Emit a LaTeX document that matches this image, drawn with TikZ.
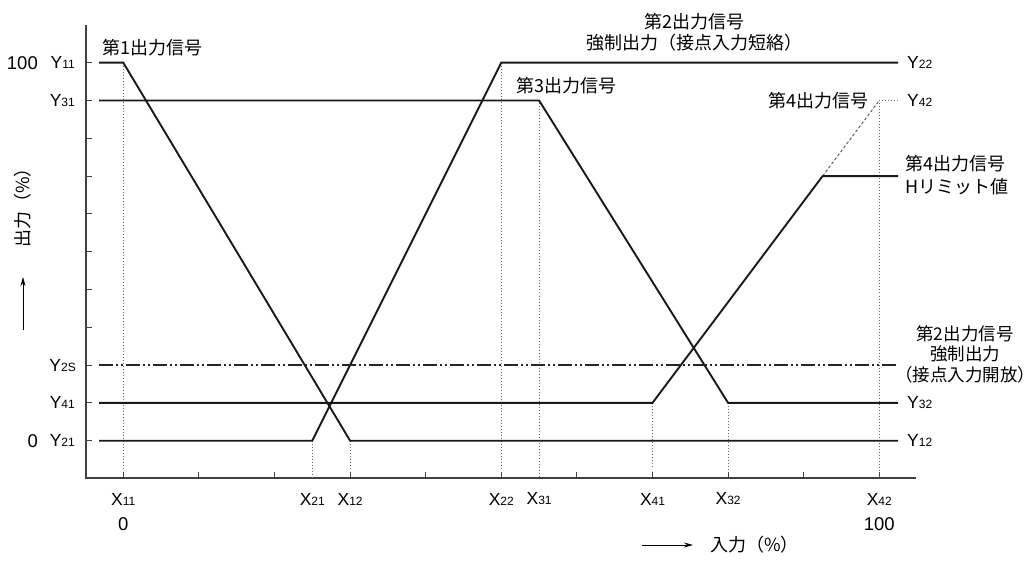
\documentclass[tikz,border=0pt]{standalone}
\usepackage{fontspec}
\setmainfont{Liberation Sans}
\newfontfamily\jp{Noto Sans CJK JP}
\usetikzlibrary{arrows.meta}
\newcommand\lsub[1]{{\fontsize{12}{12}\selectfont #1}}
\begin{document}
\begin{tikzpicture}[x=1pt,y=-1pt,
  sig/.style={line width=1.9pt, line join=miter, black!90},
  axisl/.style={line width=1.4pt, black!75},
  tickl/.style={line width=1.1pt, black!75},
  guide/.style={line width=0.8pt, black!60, dash pattern=on 0.9pt off 2.1pt},
  lat/.style={inner sep=0pt, font=\fontsize{17.5}{17.5}\selectfont},
  num/.style={inner sep=0pt, font=\fontsize{18.5}{18.5}\selectfont},
  jtxt/.style={inner sep=0pt, font=\jp\fontsize{18}{21}\selectfont, align=center},
]
\useasboundingbox (0,0) rectangle (1035,561);

% axes
\coordinate (o) at (86,478);
\coordinate (ytop) at (86,25);
\coordinate (xend) at (916,478);
\draw[axisl] (ytop) -- (o) -- (xend);

% y ticks
\foreach \i in {0,...,10}{
  \coordinate (yt\i) at (86,{440.7-37.8*\i});
  \draw[tickl] (yt\i) -- ++(6,0);
}
% x ticks
\foreach \i in {0,...,10}{
  \coordinate (xt\i) at ({123.3+75.6*\i},478);
  \draw[tickl] (xt\i) -- ++(0,-6);
}

% key points
\coordinate (X11) at (123.3,62.7);
\coordinate (X11b) at (123.3,468);
\coordinate (X21) at (312.3,440.7);
\coordinate (X21b) at (312.3,478);
\coordinate (X12) at (350.1,440.7);
\coordinate (X12b) at (350.1,468);
\coordinate (X22) at (501.3,62.7);
\coordinate (X22b) at (501.3,468);
\coordinate (X31) at (539.1,100.5);
\coordinate (X31b) at (539.1,478);
\coordinate (X41) at (652.5,402.9);
\coordinate (X41b) at (652.5,468);
\coordinate (X32) at (728.1,402.9);
\coordinate (X32b) at (728.1,472);
\coordinate (X42) at (879.3,100.5);
\coordinate (X42b) at (879.3,478);
\coordinate (H4) at (822.6,176.1);

% dotted guides
\draw[guide] (X11) -- (X11b);
\draw[guide] (X21) -- (X21b);
\draw[guide] (X12) -- (X12b);
\draw[guide] (X22) -- (X22b);
\draw[guide] (X31) -- (X31b);
\draw[guide] (X41) -- (X41b);
\draw[guide] (X32) -- (X32b);
\draw[guide] (X42) -- (X42b);

% signal lines
\coordinate (s1a) at (99,62.7);   \coordinate (s1e) at (898.2,440.7);
\coordinate (s2a) at (99,440.7);  \coordinate (s2e) at (898.2,62.7);
\coordinate (s3a) at (99,100.5);  \coordinate (s3e) at (898.2,402.9);
\coordinate (s4a) at (99,402.9);  \coordinate (s4e) at (898.2,176.1);
\coordinate (s5a) at (99,365.1);  \coordinate (s5e) at (898.2,365.1);
\coordinate (y42e) at (898.2,100.5);

\draw[sig] (s1a) -- (X11) -- (X12) -- (s1e);
\draw[sig] (s2a) -- (X21) -- (X22) -- (s2e);
\draw[sig] (s3a) -- (X31) -- (X32) -- (s3e);
\draw[sig] (s4a) -- (X41) -- (H4) -- (s4e);
\draw[line width=0.8pt, black!75, dash pattern=on 3pt off 2pt] (H4) -- (X42);
\draw[guide] (X42) -- (y42e);
\draw[line width=1.6pt, black!85, dash pattern=on 14pt off 3pt on 2pt off 3pt on 2pt off 3pt] (s5a) -- (s5e);

% left labels
\node[num, anchor=east] (n100) at (38,62.7) {100};
\node[num, anchor=east] (n0) at (38,440.7) {0};
\node[lat, anchor=east] (ly11) at (75,62.7) {Y\lsub{11}};
\node[lat, anchor=east] (ly31) at (75,100.5) {Y\lsub{31}};
\node[lat, anchor=east] (ly2s) at (76,365.1) {Y\lsub{2S}};
\node[lat, anchor=east] (ly41) at (75,402.9) {Y\lsub{41}};
\node[lat, anchor=east] (ly21) at (75,440.7) {Y\lsub{21}};

% right labels
\node[lat, anchor=west] (ry22) at (907,62.7) {Y\lsub{22}};
\node[lat, anchor=west] (ry42) at (907,100.5) {Y\lsub{42}};
\node[lat, anchor=west] (ry32) at (907,402.9) {Y\lsub{32}};
\node[lat, anchor=west] (ry12) at (907,440.7) {Y\lsub{12}};

% x labels
\node[lat] (lx11) at (123.3,499) {X\lsub{11}};
\node[lat] (lx21) at (312.3,499) {X\lsub{21}};
\node[lat] (lx12) at (350.1,499) {X\lsub{12}};
\node[lat] (lx22) at (501.3,499) {X\lsub{22}};
\node[lat] (lx31) at (539.1,499) {X\lsub{31}};
\node[lat] (lx41) at (652.5,499) {X\lsub{41}};
\node[lat] (lx32) at (728.1,499) {X\lsub{32}};
\node[lat] (lx42) at (879.3,499) {X\lsub{42}};
\node[num] (bx0) at (123.3,524) {0};
\node[num] (bx100) at (879.3,524) {100};

% signal labels
\node[jtxt, anchor=west] (t1) at (102,48) {第1出力信号};
\node[jtxt] (t2) at (694,32) {第2出力信号\\強制出力（接点入力短絡）};
\node[jtxt, anchor=west] (t3) at (516,86) {第3出力信号};
\node[jtxt, anchor=east] (t4) at (869,101) {第4出力信号};
\node[jtxt, anchor=west, align=left, font=\jp\fontsize{18}{23}\selectfont] (t4h) at (905,175.5) {第4出力信号\\Hリミット値};
\node[jtxt, font=\jp\fontsize{17.5}{20.5}\selectfont] (t2s) at (965,354) {第2出力信号\\強制出力\\（接点入力開放）};

% axis titles
\coordinate (ya1) at (23,330);
\coordinate (ya2) at (23,277);
\draw[line width=1pt, -{Stealth[length=9pt,width=5pt]}] (ya1) -- (ya2);
\node[jtxt, rotate=90, anchor=west] (ytitle) at (23,248) {出力（\%）};

\coordinate (xa1) at (642,545);
\coordinate (xa2) at (693,545);
\draw[line width=1pt, -{Stealth[length=9pt,width=5pt]}] (xa1) -- (xa2);
\node[jtxt, anchor=west] (xtitle) at (710,545) {入力（\%）};
\end{tikzpicture}
\end{document}
